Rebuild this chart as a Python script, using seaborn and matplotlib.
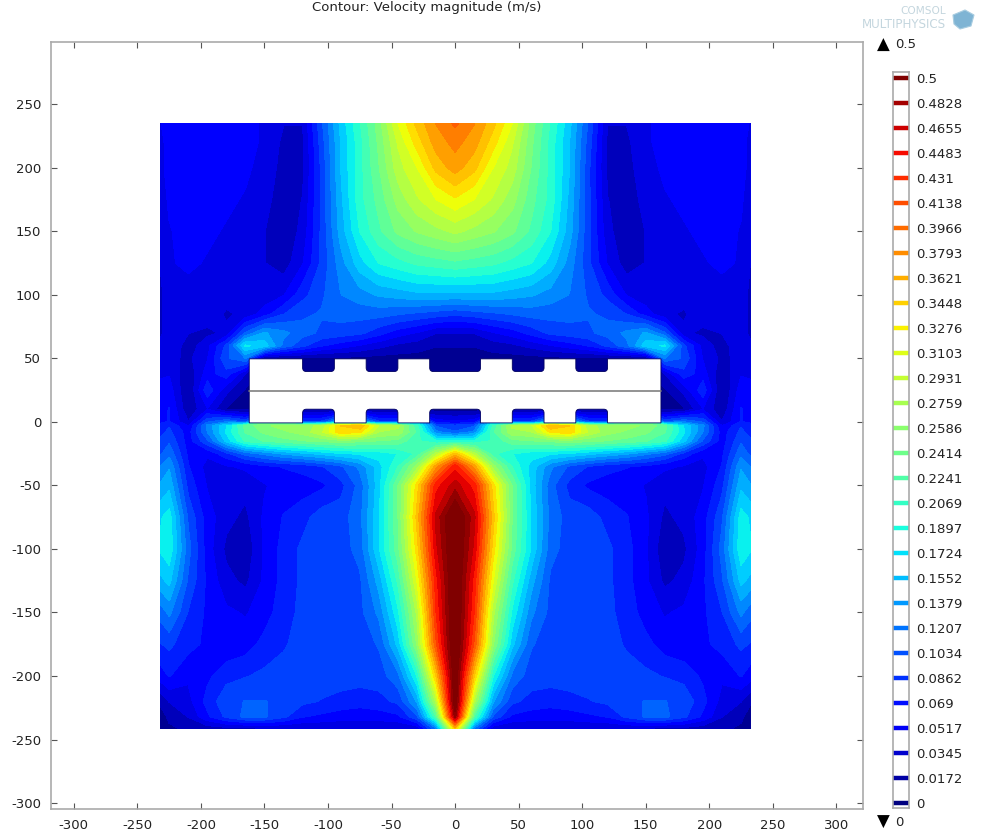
import matplotlib
matplotlib.use("Agg")

import matplotlib.pyplot as plt
import numpy as np
import seaborn as sns
from matplotlib.patches import PathPatch, Polygon
from matplotlib.path import Path

# Velocity magnitude, right half only (the field is mirrored about x = 0)
x_half = [0, 15, 30, 45, 60, 75, 90, 105, 120, 135, 150, 165, 180, 195, 210, 225, 232]
y_rows = [235, 220, 200, 175, 150, 125, 100, 85, 70, 60, 50, 38, 25, 10, 0, -3, -8, -15, -25, -35,
          -50, -75, -100, -125, -150, -175, -200, -220, -232, -241]
speed_half = [
    [.400, .380, .350, .310, .250, .205, .160, .100, .035, .035, .050, .055, .060, .065, .065, .065, .050],
    [.385, .370, .335, .295, .245, .200, .155, .095, .030, .030, .050, .055, .060, .065, .065, .060, .045],
    [.370, .350, .310, .285, .240, .200, .155, .090, .030, .028, .045, .055, .060, .065, .065, .060, .045],
    [.325, .310, .290, .265, .230, .200, .150, .090, .035, .025, .040, .050, .055, .060, .062, .055, .040],
    [.280, .270, .260, .245, .220, .190, .145, .090, .040, .020, .035, .045, .050, .055, .060, .050, .040],
    [.220, .215, .210, .200, .190, .165, .130, .090, .050, .025, .035, .040, .045, .050, .055, .050, .035],
    [.150, .150, .150, .145, .140, .130, .120, .100, .080, .050, .040, .040, .042, .045, .045, .045, .030],
    [.090, .095, .100, .105, .110, .110, .110, .105, .100, .085, .060, .038, .032, .045, .040, .045, .030],
    [.035, .035, .050, .060, .075, .090, .095, .100, .110, .125, .140, .105, .038, .030, .035, .045, .030],
    [.018, .018, .025, .030, .040, .050, .060, .070, .090, .115, .165, .175, .090, .045, .025, .050, .040],
    [.010, .010, .010, .010, .010, .012, .012, .012, .012, .012, .012, .120, .100, .050, .030, .040, .035],
    [.004, .004, .004, .004, .004, .004, .004, .004, .004, .004, .010, .035, .080, .060, .020, .050, .050],
    [.004, .004, .004, .004, .004, .004, .004, .004, .004, .004, .010, .015, .040, .080, .015, .060, .055],
    [.008, .008, .008, .012, .012, .012, .012, .012, .012, .010, .010, .010, .015, .050, .020, .070, .060],
    [.055, .060, .150, .090, .090, .150, .150, .090, .090, .200, .220, .100, .120, .100, .035, .070, .065],
    [.090, .100, .210, .280, .290, .360, .345, .280, .270, .265, .255, .230, .170, .125, .050, .085, .075],
    [.105, .125, .220, .270, .275, .330, .340, .290, .265, .255, .245, .225, .175, .120, .060, .090, .080],
    [.190, .190, .210, .235, .240, .245, .250, .245, .240, .235, .225, .210, .160, .100, .060, .100, .090],
    [.350, .280, .210, .190, .180, .175, .170, .160, .150, .140, .125, .110, .080, .055, .065, .115, .100],
    [.440, .370, .265, .205, .165, .125, .100, .085, .075, .070, .065, .055, .050, .045, .070, .135, .120],
    [.475, .440, .335, .240, .165, .110, .080, .065, .060, .060, .050, .040, .040, .050, .080, .150, .140],
    [.530, .470, .350, .240, .170, .115, .095, .095, .080, .070, .055, .030, .040, .060, .100, .180, .170],
    [.530, .460, .335, .235, .170, .110, .095, .095, .090, .075, .055, .020, .030, .060, .110, .185, .175],
    [.530, .440, .310, .210, .145, .100, .095, .095, .090, .075, .055, .030, .040, .065, .100, .160, .150],
    [.530, .430, .280, .185, .125, .098, .095, .095, .090, .080, .060, .050, .055, .065, .085, .125, .110],
    [.530, .410, .260, .160, .105, .095, .095, .095, .090, .085, .075, .060, .055, .065, .075, .090, .085],
    [.520, .345, .190, .115, .095, .095, .095, .095, .095, .090, .090, .085, .080, .065, .055, .070, .060],
    [.520, .280, .140, .090, .080, .075, .080, .085, .090, .100, .104, .104, .098, .075, .045, .035, .020],
    [.490, .220, .100, .065, .060, .060, .060, .065, .070, .090, .106, .108, .090, .065, .035, .020, .010],
    [.350, .120, .040, .035, .035, .035, .035, .035, .035, .035, .035, .030, .030, .025, .020, .015, .010],
]

level_values = [0, 0.0172, 0.0345, 0.0517, 0.069, 0.0862, 0.1034, 0.1207, 0.1379, 0.1552,
                0.1724, 0.1897, 0.2069, 0.2241, 0.2414, 0.2586, 0.2759, 0.2931, 0.3103, 0.3276,
                0.3448, 0.3621, 0.3793, 0.3966, 0.4138, 0.431, 0.4483, 0.4655, 0.4828, 0.5]
level_labels = ["0", "0.0172", "0.0345", "0.0517", "0.069", "0.0862", "0.1034", "0.1207", "0.1379", "0.1552",
                "0.1724", "0.1897", "0.2069", "0.2241", "0.2414", "0.2586", "0.2759", "0.2931", "0.3103", "0.3276",
                "0.3448", "0.3621", "0.3793", "0.3966", "0.4138", "0.431", "0.4483", "0.4655", "0.4828", "0.5"]

x_ticks = [-300, -250, -200, -150, -100, -50, 0, 50, 100, 150, 200, 250, 300]
y_ticks = [-300, -250, -200, -150, -100, -50, 0, 50, 100, 150, 200, 250]

# blocks of the body outline
body_left, body_right = -162, 162
body_bottom, body_top, body_mid = -0.8, 49.6, 24.4
notch_edges = [(-120, -95), (-70, -45), (-20, 20), (45, 70), (95, 120)]
top_notch_floor, bottom_notch_roof = 39.6, 10

W, H = 983, 832
GRAY = "#aaaaaa"
TEXT = "#222222"


def body_path():
    r = 3
    verts = [(body_left, body_bottom)]
    codes = [Path.MOVETO]
    for a, b in notch_edges:
        verts += [(a, body_bottom), (a, bottom_notch_roof - r), (a, bottom_notch_roof), (a + r, bottom_notch_roof),
                  (b - r, bottom_notch_roof), (b, bottom_notch_roof), (b, bottom_notch_roof - r), (b, body_bottom)]
        codes += [Path.LINETO, Path.LINETO, Path.CURVE3, Path.CURVE3,
                  Path.LINETO, Path.CURVE3, Path.CURVE3, Path.LINETO]
    verts += [(body_right, body_bottom), (body_right, body_top)]
    codes += [Path.LINETO, Path.LINETO]
    for a, b in notch_edges[::-1]:
        verts += [(b, body_top), (b, top_notch_floor + r), (b, top_notch_floor), (b - r, top_notch_floor),
                  (a + r, top_notch_floor), (a, top_notch_floor), (a, top_notch_floor + r), (a, body_top)]
        codes += [Path.LINETO, Path.LINETO, Path.CURVE3, Path.CURVE3,
                  Path.LINETO, Path.CURVE3, Path.CURVE3, Path.LINETO]
    verts += [(body_left, body_top), (body_left, body_bottom)]
    codes += [Path.LINETO, Path.CLOSEPOLY]
    return Path(verts, codes)


def main():
    sns.set_theme(style="white", rc={"font.family": "DejaVu Sans", "axes.unicode_minus": False})
    jet = matplotlib.colormaps["jet"]

    half = np.array(speed_half)
    speed = np.hstack([half[:, :0:-1], half])
    xs = np.array(x_half, dtype=float)
    xs = np.concatenate([-xs[:0:-1], xs])

    fig = plt.figure(figsize=(W / 100, H / 100), dpi=100)
    ax = fig.add_axes([51 / W, 1 - 809 / H, (863 - 51) / W, (809 - 42) / H])
    cs = ax.contourf(xs, y_rows, speed, levels=level_values, cmap=jet, vmin=0, vmax=0.5, extend="both")
    cs.set_edgecolor("face")
    cs.set_linewidth(0.3)

    ax.add_patch(PathPatch(body_path(), facecolor="white", edgecolor="#000060", lw=0.6, zorder=3))
    ax.plot([body_left, body_right], [body_mid, body_mid], color="#808080", lw=1.2, zorder=4)

    ax.set_xticks(x_ticks)
    ax.set_yticks(y_ticks)
    ax.set_xlim(-318, 321)
    ax.set_ylim(-304.7, 299)
    ax.tick_params(direction="in", length=4, width=0.8, color="#555555", labelcolor=TEXT, labelsize=9.5,
                   top=True, right=True, bottom=True, left=True, pad=7)
    for spine in ax.spines.values():
        spine.set_color(GRAY)
        spine.set_linewidth(1.2)

    fig.text(427 / W, 1 - 7 / H, "Contour: Velocity magnitude (m/s)", ha="center", va="center",
             fontsize=9.5, color=TEXT)

    # legend of contour levels
    cax = fig.add_axes([893 / W, 1 - 808 / H, 16 / W, (808 - 72) / H])
    for value in level_values:
        cax.hlines(value, 0, 1, color=jet(value / 0.5), lw=3.2)
    cax.set_xlim(0, 1)
    scale = 0.5 / (803 - 78)
    cax.set_ylim(-(808 - 803) * scale, 0.5 + (78 - 72) * scale)
    cax.set_xticks([])
    cax.yaxis.tick_right()
    cax.set_yticks(level_values)
    cax.set_yticklabels(level_labels)
    cax.tick_params(axis="y", length=0, labelsize=9.5, labelcolor=TEXT, pad=5)
    for spine in cax.spines.values():
        spine.set_color(GRAY)
        spine.set_linewidth(1.2)

    fig.text(883 / W, 1 - 45 / H, "\u25b2", ha="center", va="center", fontsize=12, color="black")
    fig.text(895 / W, 1 - 45 / H, "0.5", ha="left", va="center", fontsize=9.5, color=TEXT)
    fig.text(883 / W, 1 - 822 / H, "\u25bc", ha="center", va="center", fontsize=12, color="black")
    fig.text(895 / W, 1 - 822 / H, "0", ha="left", va="center", fontsize=9.5, color=TEXT)

    # vendor logo
    fig.text(946 / W, 1 - 11.5 / H, "COMSOL", ha="right", va="center", fontsize=7.6, color="#c4d6de")
    fig.text(946 / W, 1 - 24 / H, "MULTIPHYSICS", ha="right", va="center", fontsize=8.6, color="#c4d6de")
    cube = [(953, 15), (965, 10), (974, 15), (971, 26), (960, 29), (954, 24)]
    fig.add_artist(Polygon([(x / W, 1 - y / H) for x, y in cube], closed=True, facecolor="#7fb4d4",
                           edgecolor="#a8cce0", lw=0.8, transform=fig.transFigure))

    fig.savefig("out.png", dpi=100)


if __name__ == "__main__":
    main()
